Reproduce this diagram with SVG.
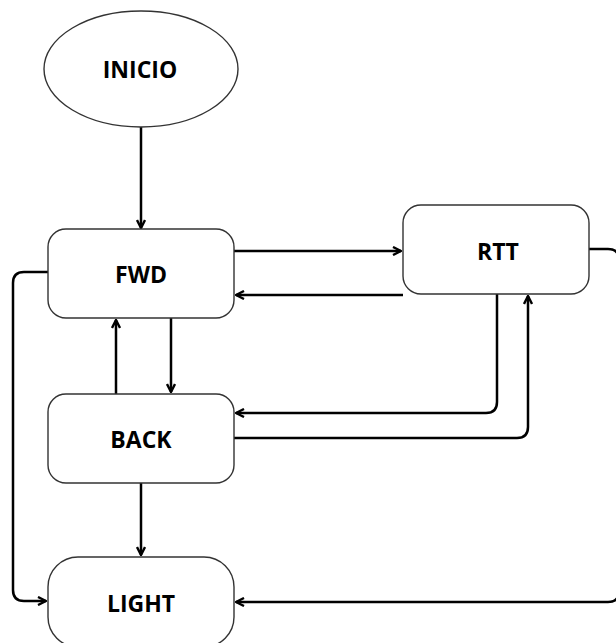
<svg xmlns="http://www.w3.org/2000/svg" width="616" height="643" viewBox="0 0 616 643">
<defs>
<marker id="arr" viewBox="0 0 10 10" refX="9" refY="5" markerWidth="10" markerHeight="10" markerUnits="userSpaceOnUse" orient="auto">
<path d="M1,1 L9,5 L1,9" fill="none" stroke="#000" stroke-width="2.4" stroke-linejoin="miter"/>
</marker>
<style>
.node{fill:#fff;stroke:#333;stroke-width:1.4}
.lbl{font-family:"Open Sans","Liberation Sans",sans-serif;font-weight:bold;font-size:23px;fill:#000;text-anchor:middle}
.c{fill:none;stroke:#000;stroke-width:2.5;marker-end:url(#arr)}
</style>
</defs>
<rect width="616" height="643" fill="#fff"/>
<g id="connectors">
<path class="c" d="M141,127 V228"/>
<path class="c" d="M234,251 H401"/>
<path class="c" d="M403,295 H236"/>
<path class="c" d="M171,318 V392"/>
<path class="c" d="M116,394 V320"/>
<path class="c" d="M497,294 V402 Q497,413 486,413 H236"/>
<path class="c" d="M234,438 H517 Q528,438 528,427 V296"/>
<path class="c" d="M141,483 V555"/>
<path class="c" d="M48,272 H24 Q13,272 13,283 V590 Q13,601 24,601 H46"/>
<path class="c" d="M589,249 H608 Q619,249 619,260 V591 Q619,602 608,602 H236"/>
</g>
<g id="inicio">
<ellipse class="node" cx="141" cy="69" rx="97" ry="58"/>
<text class="lbl" x="140" y="78">INICIO</text>
</g>
<g id="fwd">
<rect class="node" x="48" y="229" width="186" height="89" rx="18"/>
<text class="lbl" x="141" y="283">FWD</text>
</g>
<g id="rtt">
<rect class="node" x="403" y="205" width="186" height="89" rx="18"/>
<text class="lbl" x="498" y="260">RTT</text>
</g>
<g id="back">
<rect class="node" x="48" y="394" width="186" height="89" rx="18"/>
<text class="lbl" x="141" y="448">BACK</text>
</g>
<g id="light">
<rect class="node" x="48" y="557" width="186" height="90" rx="30"/>
<text class="lbl" x="141" y="612">LIGHT</text>
</g>
</svg>
